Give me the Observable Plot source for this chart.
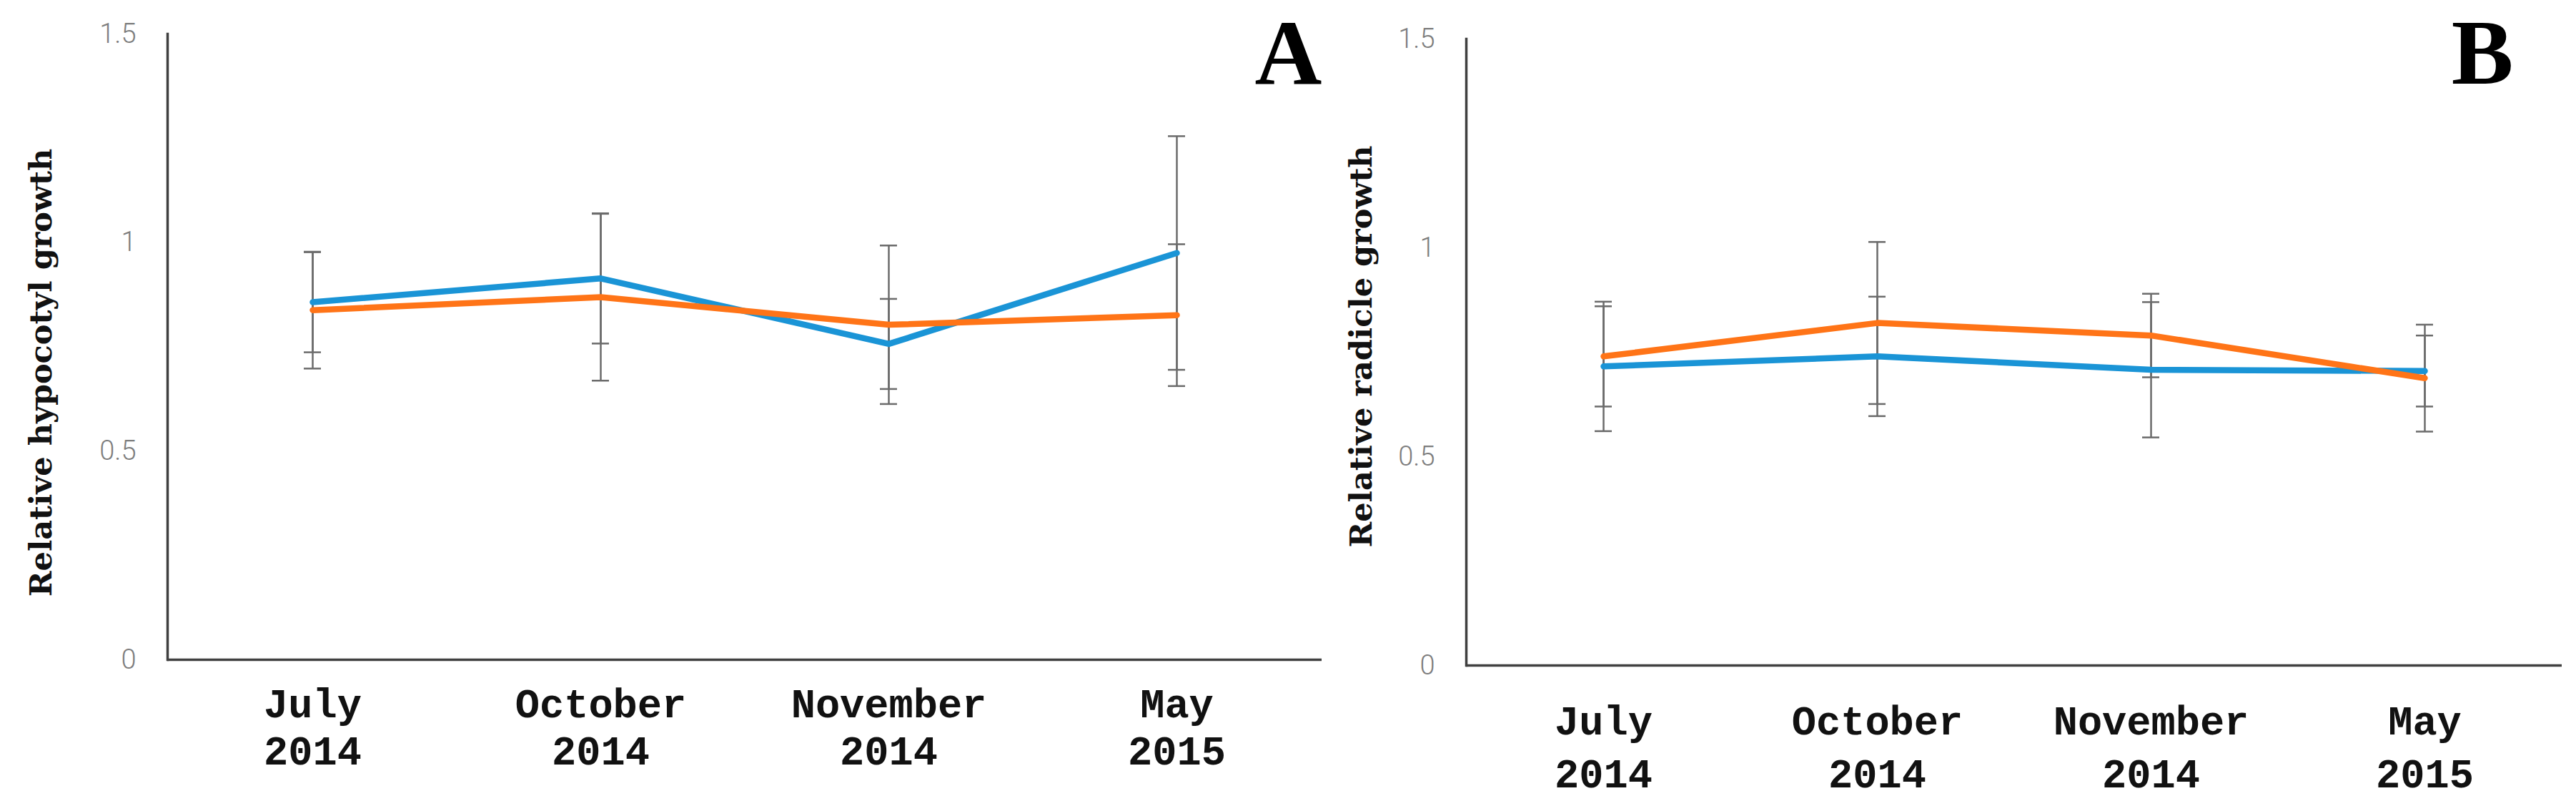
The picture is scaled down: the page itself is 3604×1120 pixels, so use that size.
<!DOCTYPE html>
<html>
<head>
<meta charset="utf-8">
<script src="https://cdn.jsdelivr.net/npm/d3@7"></script>
<script src="https://cdn.jsdelivr.net/npm/@observablehq/plot@0.6"></script>
<style>
  html, body { margin: 0; padding: 0; background: #ffffff; }
  #wrap { position: relative; width: 3604px; height: 1120px; overflow: hidden; background: #fff; }
  #wrap > div, #wrap > svg { position: absolute; top: 0; }
</style>
</head>
<body>
<div id="wrap"></div>
<script>
// ---- data ----
const categories = ["July 2014", "October 2014", "November 2014", "May 2015"];
const yTicks = [0, 0.5, 1, 1.5];

// Panel A: Relative hypocotyl growth
const hypocotylBlue      = [0.857, 0.914, 0.757, 0.975];
const hypocotylBlueErr   = [0.120, 0.156, 0.108, 0.280];
const hypocotylOrange    = [0.838, 0.869, 0.803, 0.826];
const hypocotylOrangeErr = [0.140, 0.200, 0.190, 0.170];

// Panel B: Relative radicle growth
const radicleBlue      = [0.716, 0.740, 0.708, 0.705];
const radicleBlueErr   = [0.155, 0.143, 0.162, 0.085];
const radicleOrange    = [0.740, 0.820, 0.790, 0.688];
const radicleOrangeErr = [0.120, 0.194, 0.100, 0.128];

const seriesNames = ["Series 1", "Series 2"];
const seriesColors = ["#1a94d6", "#ff7417"];

function rows(values, errs, series) {
  return categories.map((c, i) => ({month: c, value: values[i], lo: values[i] - errs[i], hi: values[i] + errs[i], series}));
}

function panel(cfg) {
  const blue = rows(cfg.blue, cfg.blueErr, seriesNames[0]);
  const orange = rows(cfg.orange, cfg.orangeErr, seriesNames[1]);
  const all = blue.concat(orange);
  const errStyle = {stroke: "#6b6b6b", strokeWidth: 2.5};
  const cap = {x1: "month", x2: "month", insetLeft: -12, insetRight: -12, ...errStyle};
  return Plot.plot({
    width: cfg.width,
    height: 1120,
    marginTop: cfg.marginTop,
    marginBottom: cfg.marginBottom,
    marginLeft: cfg.marginLeft,
    marginRight: cfg.marginRight,
    style: {background: "transparent", overflow: "visible"},
    x: {type: "point", domain: categories, padding: 0.5},
    y: {domain: [0, 1.5]},
    marks: [
      Plot.axisY({ticks: yTicks, tickSize: 0, tickPadding: 44, fontSize: 38, fontFamily: "Roboto", fontWeight: 300,
                  fill: "#7d7d7d", label: null, tickFormat: d => String(d)}),
      Plot.axisX({tickSize: 0, tickPadding: cfg.xPad, fontSize: 57, fontFamily: "Liberation Mono", fontWeight: "bold",
                  fill: "#111", lineHeight: cfg.xLineHeight, lineAnchor: "top", label: null,
                  tickFormat: d => d.replace(" ", "\n")}),
      Plot.ruleX(all, {x: "month", y1: "lo", y2: "hi", ...errStyle}),
      Plot.ruleY(all, {y: "lo", ...cap}),
      Plot.ruleY(all, {y: "hi", ...cap}),
      Plot.line(blue, {x: "month", y: "value", stroke: seriesColors[0], strokeWidth: 8.5}),
      Plot.line(orange, {x: "month", y: "value", stroke: seriesColors[1], strokeWidth: 8.5}),
      Plot.ruleY([0], {stroke: "#404040", strokeWidth: 3.5}),
      Plot.frame({anchor: "left", stroke: "#404040", strokeWidth: 3.5}),
      Plot.text([cfg.yLabel], {frameAnchor: "left", textAnchor: "middle", lineAnchor: "middle", rotate: -90,
                  dx: cfg.labelDx, dy: cfg.labelDy,
                  fontSize: 43, fontFamily: "DejaVu Serif", fontWeight: "bold", fill: "#111"}),
      Plot.text([cfg.letter], {frameAnchor: "top-right", textAnchor: "end", lineAnchor: "bottom",
                  dx: cfg.letterDx, dy: cfg.letterDy, fontSize: 130, fontFamily: "Liberation Serif",
                  fontWeight: "bold", fill: "#000"})
    ]
  });
}

const wrap = document.getElementById("wrap");

const a = panel({
  width: 1870, marginTop: 47, marginBottom: 198, marginLeft: 234, marginRight: 21,
  blue: hypocotylBlue, blueErr: hypocotylBlueErr, orange: hypocotylOrange, orangeErr: hypocotylOrangeErr,
  yLabel: "Relative hypocotyl growth", labelDx: -176, labelDy: 36,
  xPad: 34, xLineHeight: 66 / 57,
  letter: "A", letterDx: 0, letterDy: 69
});
a.style.left = "0px";
wrap.appendChild(a);

const b = panel({
  width: 1734, marginTop: 54, marginBottom: 190, marginLeft: 181, marginRight: 20,
  blue: radicleBlue, blueErr: radicleBlueErr, orange: radicleOrange, orangeErr: radicleOrangeErr,
  yLabel: "Relative radicle growth", labelDx: -146, labelDy: -8,
  xPad: 44, xLineHeight: 74 / 57,
  letter: "B", letterDx: -68, letterDy: 62
});
b.style.left = "1870px";
wrap.appendChild(b);
</script>
</body>
</html>
